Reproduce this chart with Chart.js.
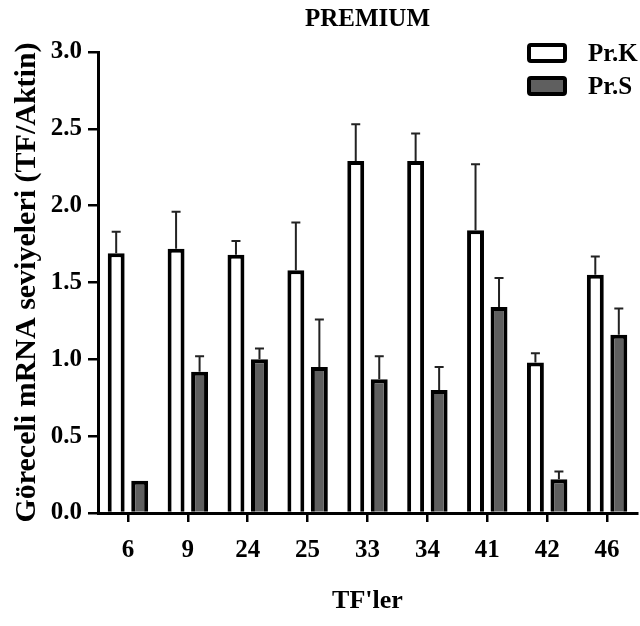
<!DOCTYPE html>
<html>
<head>
<meta charset="utf-8">
<title>PREMIUM</title>
<script src="https://cdn.jsdelivr.net/npm/chart.js@4.4.1/dist/chart.umd.min.js"></script>
<style>
    body { margin: 0; background: #fff; overflow: hidden; }
    #wrap { position: relative; width: 640px; height: 626px; }
    .legend-item { position: absolute; left: 527px; height: 20px; font: bold 25px 'Liberation Serif', 'Times New Roman', serif; color: #000; }
    .legend-box { position: absolute; left: 0; top: 0; width: 40px; height: 20px; box-sizing: border-box; border: 4px solid #000; border-radius: 4px; }
    .legend-text { position: absolute; left: 61px; top: -5px; line-height: 29px; white-space: nowrap; }
</style>
</head>
<body>
<div id="wrap">
    <canvas id="premiumChart"></canvas>
    <div class="legend-item" style="top: 43px;"><div class="legend-box" style="background: #fff;"></div><span class="legend-text">Pr.K</span></div>
    <div class="legend-item" style="top: 76px;"><div class="legend-box" style="background: #5f5f5f;"></div><span class="legend-text">Pr.S</span></div>
</div>
<script>
// data
const categories = ['6', '9', '24', '25', '33', '34', '41', '42', '46'];
const prK = [1.69, 1.72, 1.68, 1.58, 2.29, 2.29, 1.84, 0.98, 1.55];
const prKErr = [0.14, 0.24, 0.09, 0.31, 0.24, 0.18, 0.43, 0.06, 0.12];
const prS = [0.21, 0.92, 1.00, 0.95, 0.87, 0.80, 1.34, 0.22, 1.16];
const prSErr = [0, 0.10, 0.07, 0.31, 0.15, 0.15, 0.19, 0.05, 0.17];
const yTicks = [0, 0.5, 1.0, 1.5, 2.0, 2.5, 3.0];

const serif = "'Liberation Serif', 'Times New Roman', serif";
Chart.defaults.font.family = serif;
Chart.defaults.font.weight = 'bold';
Chart.defaults.color = '#000';

// upward error bars (mean + SD)
const errorBars = {
    id: 'errorBars',
    afterDatasetsDraw(chart) {
        const ctx = chart.ctx;
        const yScale = chart.scales.y;
        chart.data.datasets.forEach((ds, di) => {
            const meta = chart.getDatasetMeta(di);
            meta.data.forEach((bar, i) => {
                const sd = ds.errors[i];
                if (!sd) return;
                const yTop = yScale.getPixelForValue(ds.data[i] + sd);
                const yBase = yScale.getPixelForValue(ds.data[i]);
                ctx.save();
                ctx.strokeStyle = '#222';
                ctx.lineWidth = 2;
                ctx.beginPath();
                ctx.moveTo(bar.x, yBase);
                ctx.lineTo(bar.x, yTop);
                ctx.moveTo(bar.x - 4.5, yTop);
                ctx.lineTo(bar.x + 4.5, yTop);
                ctx.stroke();
                ctx.restore();
            });
        });
    }
};

const ctx = document.getElementById('premiumChart').getContext('2d');
const premiumChart = new Chart(ctx, {
    type: 'bar',
    data: {
        labels: categories,
        datasets: [
            { label: 'Pr.K', data: prK, errors: prKErr, backgroundColor: '#ffffff', borderColor: '#000', borderWidth: 4, barPercentage: 0.72, categoryPercentage: 0.785 },
            { label: 'Pr.S', data: prS, errors: prSErr, backgroundColor: '#5f5f5f', borderColor: '#000', borderWidth: 4, barPercentage: 0.72, categoryPercentage: 0.785 }
        ]
    },
    options: {
        responsive: true,
        maintainAspectRatio: false,
        animation: false,
        layout: { padding: { left: 0, right: 3, top: 0, bottom: 0 } },
        plugins: {
            legend: { display: false },
            tooltip: { enabled: false },
            title: {
                display: true,
                text: 'PREMIUM',
                fullSize: false,
                color: '#000',
                font: { size: 25, weight: 'bold', family: serif },
                padding: { top: 5, bottom: 17 }
            }
        },
        scales: {
            x: {
                grid: { display: true, drawOnChartArea: false, drawTicks: true, tickLength: 9, offset: false, color: '#000', lineWidth: 2.5 },
                border: { display: true, color: '#000', width: 3 },
                ticks: { padding: 14, font: { size: 25, weight: 'bold' }, color: '#000' },
                title: { display: true, text: "TF'ler", color: '#000', font: { size: 26, weight: 'bold' }, padding: { top: 0, bottom: 9 } },
                afterFit(scale) { scale.height = 113; }
            },
            y: {
                min: 0,
                max: 3,
                afterBuildTicks(scale) { scale.ticks = yTicks.map(v => ({ value: v })); },
                grid: { display: true, drawOnChartArea: false, drawTicks: true, tickLength: 10, color: '#000', lineWidth: 2.5 },
                border: { display: true, color: '#000', width: 3 },
                ticks: { padding: 6, font: { size: 25, weight: 'bold' }, color: '#000', callback: v => v.toFixed(1) },
                title: { display: true, text: 'Göreceli mRNA seviyeleri (TF/Aktin)', color: '#000', font: { size: 30, weight: 'bold' }, padding: { top: 9, bottom: 0 } },
                afterFit(scale) { scale.width = 98; }
            }
        }
    },
    plugins: [errorBars]
});
</script>
</body>
</html>
